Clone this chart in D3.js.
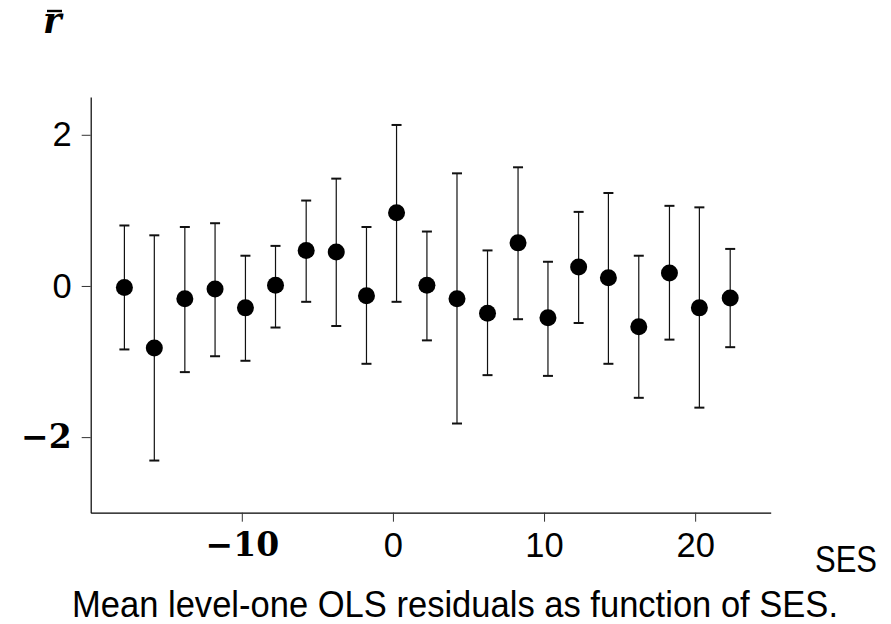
<!DOCTYPE html>
<html>
<head>
<meta charset="utf-8">
<script src="https://cdn.jsdelivr.net/npm/d3@7"></script>
<style>
  html, body { margin: 0; padding: 0; background: #fff; }
  svg { display: block; }
</style>
</head>
<body>
<svg id="chart" width="891" height="624"></svg>
<script>
// SES bin centres and mean level-one OLS residuals with interval bounds
const ses = [-17.77, -15.79, -13.77, -11.77, -9.76, -7.77, -5.74, -3.75, -1.75, 0.24, 2.25,
             4.24, 6.26, 8.28, 10.26, 12.29, 14.26, 16.27, 18.30, 20.28, 22.32];
const meanResid = [-0.02, -0.82, -0.17, -0.04, -0.29, 0.01, 0.47, 0.45, -0.13, 0.97, 0.01,
                   -0.17, -0.36, 0.57, -0.42, 0.25, 0.11, -0.54, 0.17, -0.29, -0.16];
const upper = [0.80, 0.67, 0.78, 0.83, 0.40, 0.53, 1.13, 1.42, 0.78, 2.13, 0.72,
               1.49, 0.47, 1.57, 0.32, 0.98, 1.23, 0.40, 1.06, 1.04, 0.49];
const lower = [-0.84, -2.31, -1.14, -0.93, -0.99, -0.55, -0.21, -0.53, -1.03, -0.21, -0.72,
               -1.82, -1.18, -0.44, -1.19, -0.49, -1.03, -1.48, -0.71, -1.61, -0.81];
const xTicks = [-10, 0, 10, 20];
const yTicks = [-2, 0, 2];
const xDomain = [-20, 25];
const yDomain = [-3, 2.5];

const rows = ses.map((s, i) => ({ s, m: meanResid[i], hi: upper[i], lo: lower[i] }));

const svg = d3.select("#chart");
const x = d3.scaleLinear().domain(xDomain).range([90.7, 770.7]);
const y = d3.scaleLinear().domain(yDomain).range([512.7, 97]);

const sansFont = "'Liberation Sans', Arial, sans-serif";
const boldSerif = "'DejaVu Serif', serif";

function styleTicks(g) {
  g.select(".domain").attr("stroke", "#000").attr("stroke-width", 1.2);
  g.selectAll(".tick line").attr("stroke", "#333").attr("stroke-width", 1);
  g.selectAll(".tick text")
    .attr("fill", "#000")
    .each(function (d) {
      const t = d3.select(this);
      if (d < 0) {
        t.style("font-family", boldSerif).style("font-weight", "bold").style("font-size", "33px");
      } else {
        t.style("font-family", sansFont).style("font-weight", "normal").style("font-size", "34.5px");
      }
    });
}

// axes
svg.append("g")
  .attr("transform", `translate(0,${y.range()[0]})`)
  .call(d3.axisBottom(x).tickValues(xTicks).tickSizeInner(9).tickSizeOuter(0).tickPadding(11)
    .tickFormat(d3.format("d")))
  .call(styleTicks);

svg.append("g")
  .attr("transform", `translate(${x.range()[0]},0)`)
  .call(d3.axisLeft(y).tickValues(yTicks).tickSizeInner(9).tickSizeOuter(0).tickPadding(10)
    .tickFormat(d3.format("d")))
  .call(styleTicks);

// error bars
const bars = svg.append("g").attr("class", "errorbars");
bars.selectAll("line.stem").data(rows).join("line")
  .attr("class", "stem")
  .attr("x1", d => x(d.s)).attr("x2", d => x(d.s))
  .attr("y1", d => y(d.hi)).attr("y2", d => y(d.lo))
  .attr("stroke", "#111").attr("stroke-width", 1.2);

const capHalf = 5;
["hi", "lo"].forEach(k => {
  bars.selectAll(`line.cap-${k}`).data(rows).join("line")
    .attr("class", `cap-${k}`)
    .attr("x1", d => x(d.s) - capHalf).attr("x2", d => x(d.s) + capHalf)
    .attr("y1", d => y(d[k])).attr("y2", d => y(d[k]))
    .attr("stroke", "#111").attr("stroke-width", 2);
});

// mean markers
svg.append("g").selectAll("circle").data(rows).join("circle")
  .attr("cx", d => x(d.s)).attr("cy", d => y(d.m))
  .attr("r", 8.5).attr("fill", "#000");

// y-axis symbol: r with a bar
svg.append("text")
  .attr("x", 43).attr("y", 33)
  .style("font-family", boldSerif).style("font-weight", "bold").style("font-style", "italic")
  .style("font-size", "35px").attr("fill", "#000")
  .text("r");
svg.append("line")
  .attr("x1", 47).attr("x2", 62).attr("y1", 11).attr("y2", 11)
  .attr("stroke", "#000").attr("stroke-width", 2.4);

// x-axis name
svg.append("text")
  .attr("x", 815).attr("y", 572)
  .attr("textLength", 62).attr("lengthAdjust", "spacingAndGlyphs")
  .style("font-family", sansFont).style("font-size", "37px").attr("fill", "#000")
  .text("SES");

// caption
svg.append("text")
  .attr("x", 72).attr("y", 616.5)
  .attr("textLength", 766).attr("lengthAdjust", "spacingAndGlyphs")
  .style("font-family", sansFont).style("font-size", "36.5px").attr("fill", "#000")
  .text("Mean level-one OLS residuals as function of SES.");
</script>
</body>
</html>
